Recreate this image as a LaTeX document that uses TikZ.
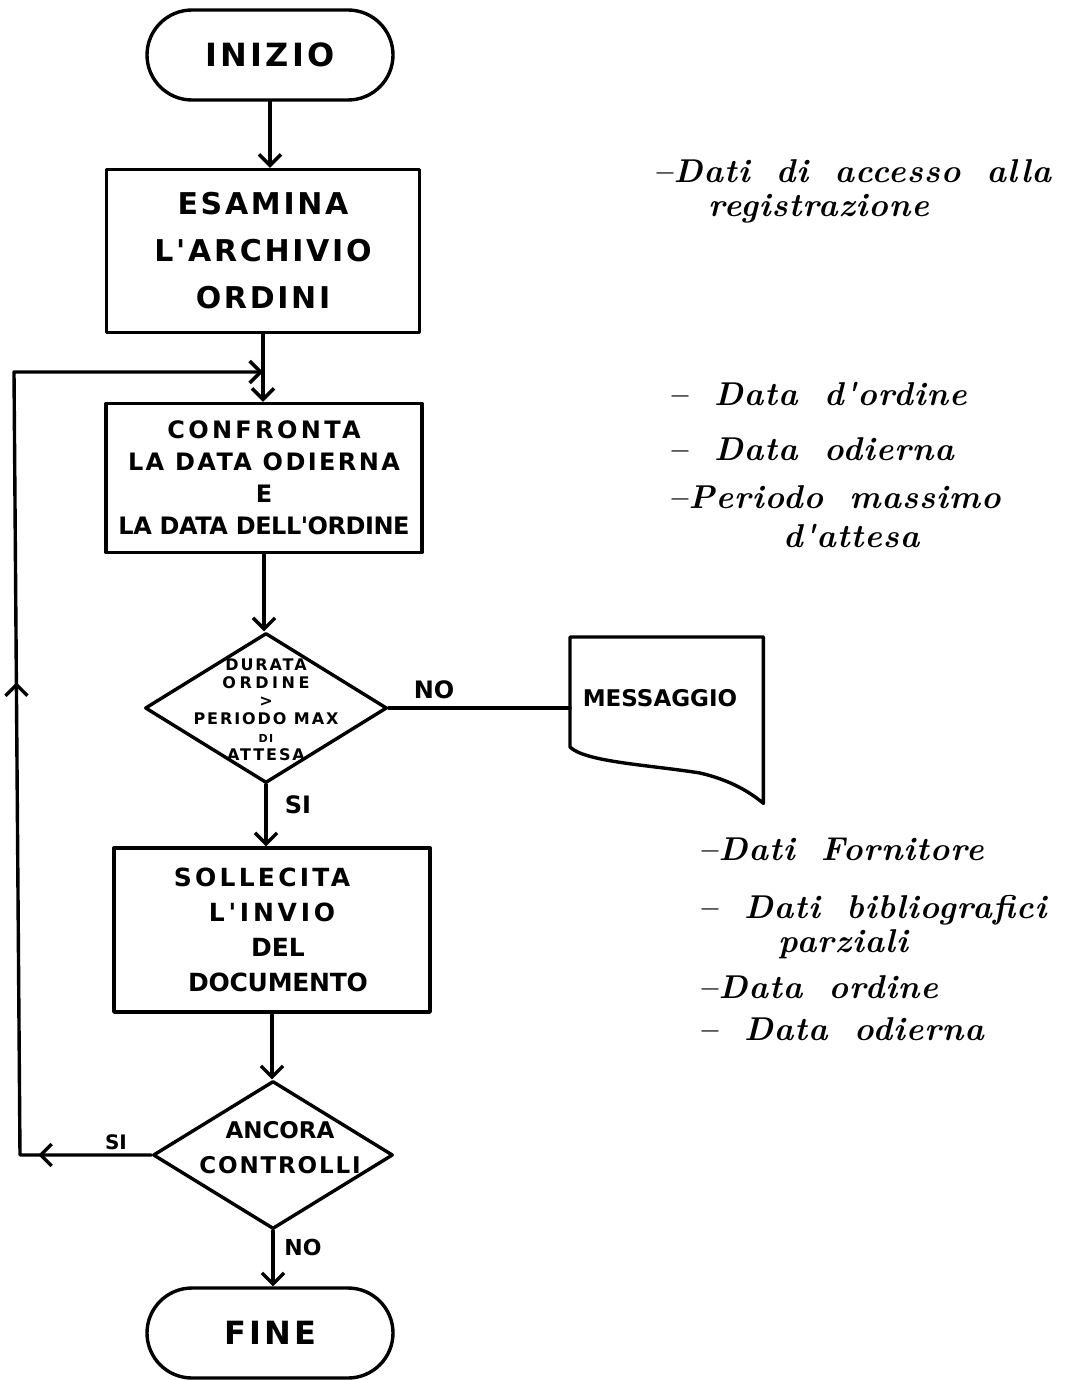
\documentclass[tikz,border=0pt]{standalone}
\usepackage{fontspec}
\newfontfamily\blockfont{DejaVu Sans}
\newfontfamily\handfont[LetterSpace=3,WordSpace=1.8]{Latin Modern Roman}
\usetikzlibrary{arrows.meta,shapes.geometric,shapes.misc,decorations.markings}

\tikzset{
  ink/.style={line width=3.4pt, line cap=round, line join=round},
  flow/.style={ink, -{Straight Barb[length=11pt,width=22pt]}},
  box/.style={draw, rectangle, ink, inner sep=0pt, align=center},
  term/.style={draw, rounded rectangle, ink, inner sep=0pt, align=center},
  decision/.style={draw, diamond, ink, inner sep=0pt},
  caps/.style={font=\blockfont\bfseries\fontsize{#1}{#1}\selectfont},
  note/.style={anchor=base west, inner sep=0pt,
               font=\handfont\bfseries\itshape\fontsize{33}{40}\selectfont},
}

\begin{document}
\begin{tikzpicture}[x=1pt, y=-1pt]
\useasboundingbox (0,0) rectangle (1075,1380);

% ---- main column of the flowchart ----
\node[term, minimum width=246, minimum height=90,
      font=\blockfont\bfseries\fontsize{32}{32}\selectfont\addfontfeature{LetterSpace=10}]
  (inizio) at (270,55) {INIZIO};

\node[box, minimum width=313, minimum height=163,
      font=\blockfont\bfseries\fontsize{30}{47}\selectfont\addfontfeature{LetterSpace=9}]
  (esamina) at (263,251) {ESAMINA\\L'ARCHIVIO\\ORDINI};

\node[box, minimum width=316, minimum height=149,
      font=\blockfont\bfseries\fontsize{24}{32}\selectfont]
  (confronta) at (264,478)
  {{\addfontfeature{LetterSpace=14}CONFRONTA}\\
   {\addfontfeature{LetterSpace=10}LA DATA ODIERNA}\\
   E\\
   {\addfontfeature{LetterSpace=-2}LA DATA DELL'ORDINE}};

\node[decision, minimum width=242, minimum height=150] (d1) at (266,708) {};
\node[align=center, inner sep=0pt,
      font=\blockfont\bfseries\fontsize{16}{18}\selectfont\addfontfeature{LetterSpace=12}]
  (d1txt) at (266,710)
  {DURATA\\{\addfontfeature{LetterSpace=22}ORDINE}\\>\\PERIODO MAX\\{\fontsize{11}{18}\selectfont DI}\\ATTESA};

\node[box, minimum width=316, minimum height=164,
      font=\blockfont\bfseries\fontsize{25}{35}\selectfont]
  (sollecita) at (272,930)
  {{\addfontfeature{LetterSpace=13}SOLLECITA}\hspace*{20pt}\\
   {\addfontfeature{LetterSpace=15}L'INVIO}\hspace*{30pt}\\
   \hspace*{12pt}DEL\\
   \hspace*{12pt}{\addfontfeature{LetterSpace=-1}DOCUMENTO}};

\node[decision, minimum width=240, minimum height=148] (d2) at (273,1155) {};
\node[align=center, inner sep=0pt,
      font=\blockfont\bfseries\fontsize{23}{35}\selectfont]
  (d2txt) at (280,1148) {ANCORA\\{\addfontfeature{LetterSpace=8}CONTROLLI}};

\node[term, minimum width=246, minimum height=90,
      font=\blockfont\bfseries\fontsize{32}{32}\selectfont\addfontfeature{LetterSpace=10}]
  (fine) at (270,1333) {FINE};

% ---- output document ----
\node[minimum width=193, minimum height=166, anchor=north west, inner sep=0pt]
  (msg) at (570,637) {};
\draw[ink] (msg.south east) -- (msg.north east) -- (msg.north west) -- (570,747)
  .. controls (585,762) and (650,765) .. (700,773)
  .. controls (730,780) and (750,792) .. (msg.south east) -- cycle;
\node[caps=23, inner sep=0pt] (msgtxt) at (660,698) {MESSAGGIO};

% ---- connectors ----
\draw[flow] (inizio.south) -- (inizio.south |- esamina.north);
\draw[flow] (esamina.south) -- (esamina.south |- confronta.north);
\draw[flow] (confronta.south) -- (confronta.south |- d1.north);
\draw[flow] (d1.south) -- (d1.south |- sollecita.north);
\draw[flow] (sollecita.south) -- (sollecita.south |- d2.north);
\draw[flow] (d2.south) -- (d2.south |- fine.north);
\draw[ink] (d1.east) -- (d1.east -| msg.west);

% loop back from the second decision to the comparison step
\coordinate (loopB) at (20,1155);
\coordinate (loopT) at (14,372);
\coordinate (join) at (263,372);
\draw[flow, postaction={decorate}, decoration={markings,
    mark=at position 113pt with {\arrow{Straight Barb[length=11pt,width=22pt]}},
    mark=at position 604pt with {\arrow{Straight Barb[length=11pt,width=22pt]}}}]
  (d2.west) -- (loopB) -- (loopT) -- (join);

% ---- branch labels ----
\node[caps=24, inner sep=0pt] (no1) at (434,690) {NO};
\node[caps=24, inner sep=0pt] (si1) at (298,805) {SI};
\node[caps=20, inner sep=0pt] (si2) at (116,1142) {SI};
\node[caps=22, inner sep=0pt] (no2) at (303,1247) {NO};

% ---- data notes ----
\node[note] (n11) at (653,183) {–Dati di accesso alla};
\node[note] (n12) at (708,217) {registrazione};

\node[note] (n21) at (668,405) {– Data d'ordine};
\node[note] (n22) at (668,460) {– Data odierna};
\node[note] (n23) at (668,508) {–Periodo massimo};
\node[note] (n24) at (783,547) {d'attesa};

\node[note] (n31) at (698,860) {–Dati Fornitore};
\node[note] (n32) at (698,918) {– Dati bibliografici};
\node[note] (n33) at (778,952) {parziali};
\node[note] (n34) at (698,998) {–Data ordine};
\node[note] (n35) at (698,1040) {– Data odierna};
\end{tikzpicture}
\end{document}
